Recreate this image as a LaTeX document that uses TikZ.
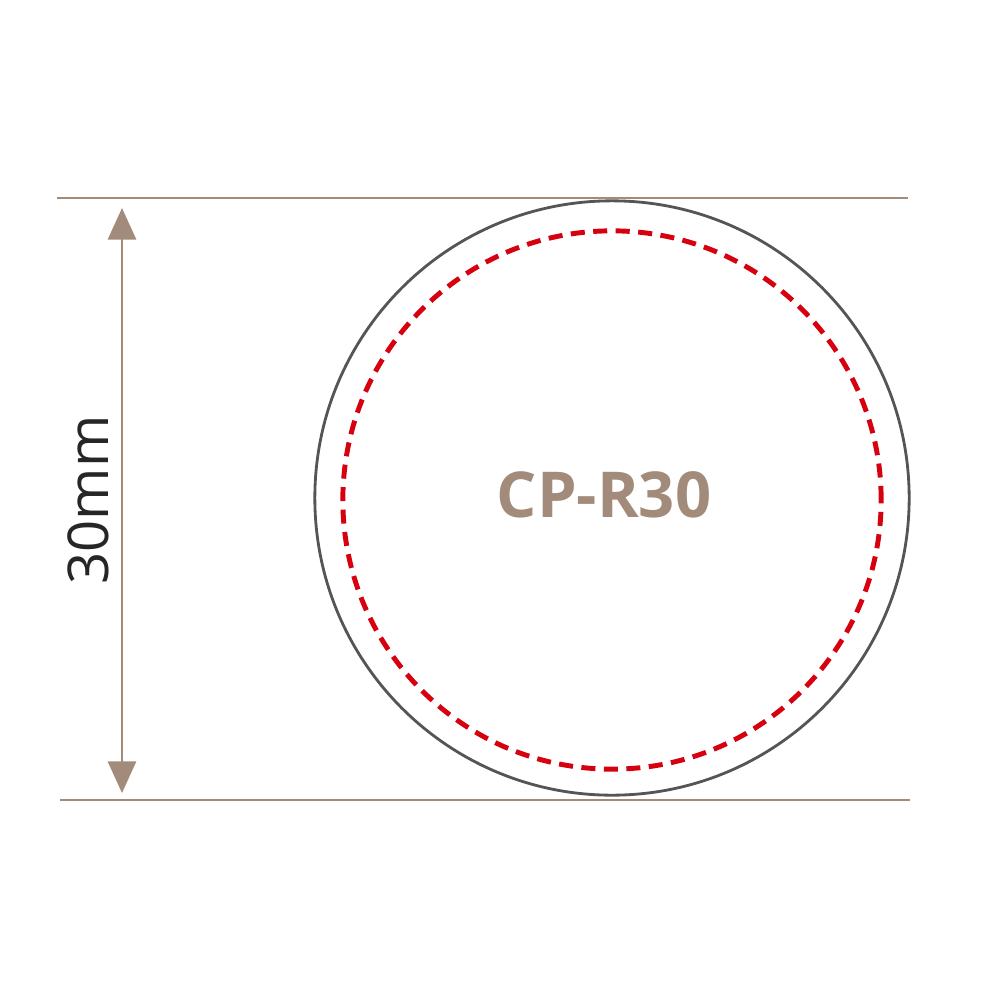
\documentclass[tikz,border=0pt]{standalone}
\usepackage{fontspec}
\setmainfont{Open Sans}
\usetikzlibrary{arrows.meta}
\definecolor{mybrown}{HTML}{A38B7B}
\definecolor{myred}{HTML}{D7000F}
\definecolor{mygray}{HTML}{555555}
\tikzset{
  guide/.style={mybrown, line width=0.6pt},
  dim/.style={mybrown, line width=0.75pt, {Triangle[width=8pt,length=9pt]}-{Triangle[width=8pt,length=9pt]}},
}
\begin{document}
\begin{tikzpicture}[x=0.01cm,y=-0.01cm]
  \useasboundingbox (0,0) rectangle (1000,1000);

  \draw[guide] (57,198) -- (908,198);
  \draw[guide] (60,800) -- (910,800);

  \node[circle, draw=mygray, line width=0.8pt, minimum size=5.94cm, inner sep=0pt] (outer) at (612,498) {};
  \node[circle, draw=myred, line width=1.4pt, dash pattern=on 4pt off 2.4pt, minimum size=5.38cm, inner sep=0pt] (inner) at (612,500) {};
  \node[mybrown, font=\fontsize{18}{21}\selectfont\bfseries] (label) at (604,495) {CP-R30};

  \coordinate (top) at (122,208);
  \coordinate (bot) at (122,793);
  \draw[dim] (top) -- (bot);
  \node[rotate=90, font=\fontsize{16}{19}\selectfont, black!85] (size) at (88,500) {30mm};
\end{tikzpicture}
\end{document}
